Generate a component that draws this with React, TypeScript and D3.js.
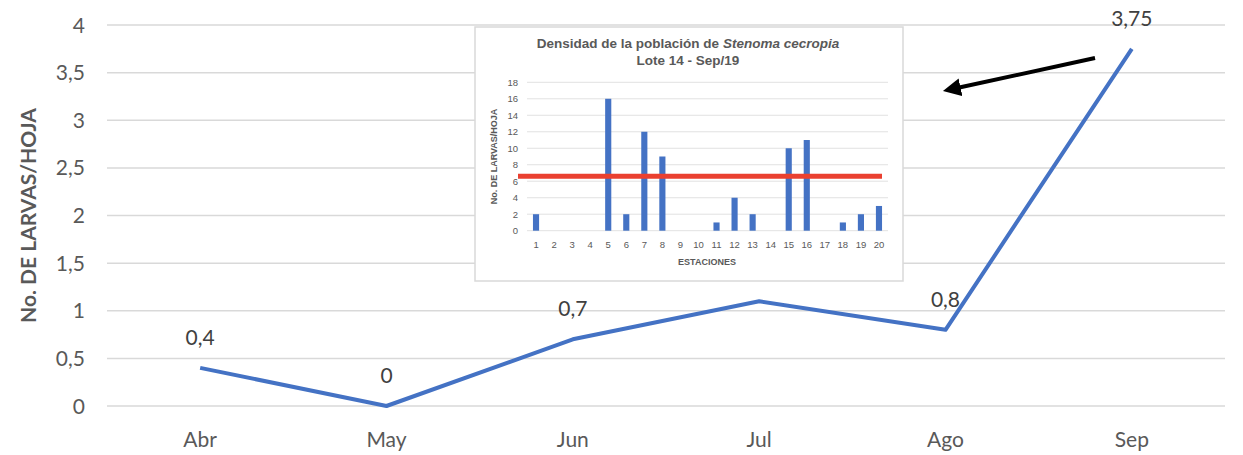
import React from "react";
import * as d3 from "d3";

// Main series: larvae per leaf by month
const months = ["Abr", "May", "Jun", "Jul", "Ago", "Sep"];
const larvas = [0.4, 0, 0.7, 1.1, 0.8, 3.75];
const labelShown = [true, true, true, false, true, true];
const yTicks = [0, 0.5, 1, 1.5, 2, 2.5, 3, 3.5, 4];

// Inset: station counts for Lote 14 - Sep/19
const estaciones = d3.range(1, 21).map(String);
const conteos = [2, 0, 0, 0, 16, 2, 12, 9, 0, 0, 1, 4, 2, 0, 10, 11, 0, 1, 2, 3];
const insetTicks = [0, 2, 4, 6, 8, 10, 12, 14, 16, 18];
const umbral = 6.6;

const W = 1243;
const H = 455;
const fmt = (v: number) => String(v).replace(".", ",");

const App: React.FC = () => {
  const x = d3.scaleBand<string>().domain(months).range([107, 1225]);
  const y = d3.scaleLinear().domain([0, 4]).range([406, 25]);

  const line = d3
    .line<number>()
    .x((_, i) => (x(months[i]) as number) + x.bandwidth() / 2)
    .y((d) => y(d));

  // inset scales
  const ix = d3.scaleBand<string>().domain(estaciones).range([527, 888]).paddingInner(0.66).paddingOuter(0.33);
  const iy = d3.scaleLinear().domain([0, 18]).range([230.7, 82.3]);

  const axisFont = "Lato, 'Open Sans', sans-serif";
  const insetFont = "'Liberation Sans', Arial, sans-serif";

  return (
    <svg width={W} height={H} style={{ position: "absolute", left: 0, top: 0, background: "#fff" }}>
      {/* gridlines */}
      {yTicks.map((t) => (
        <g key={t}>
          <line x1={107} x2={1225} y1={y(t)} y2={y(t)} stroke="#d9d9d9" strokeWidth={1.5} />
          <text x={85} y={y(t)} dy="0.36em" textAnchor="end" fontSize={21} fill="#595959" fontFamily={axisFont}>
            {fmt(t)}
          </text>
        </g>
      ))}
      {months.map((m) => (
        <text key={m} x={(x(m) as number) + x.bandwidth() / 2} y={447} textAnchor="middle" fontSize={21} fill="#595959" fontFamily={axisFont}>
          {m}
        </text>
      ))}
      <text
        transform={`translate(36,${(y(0) + y(4)) / 2}) rotate(-90)`}
        textAnchor="middle"
        fontSize={21}
        fontWeight="bold"
        fill="#595959"
        fontFamily={axisFont}
      >
        No. DE LARVAS/HOJA
      </text>

      <path d={line(larvas) as string} fill="none" stroke="#4472c4" strokeWidth={4} strokeLinejoin="round" />

      {larvas.map((v, i) =>
        labelShown[i] ? (
          <text key={i} x={(x(months[i]) as number) + x.bandwidth() / 2} y={y(v) - 23} textAnchor="middle" fontSize={21} fill="#404040" fontFamily={axisFont}>
            {fmt(v)}
          </text>
        ) : null
      )}

      {/* inset chart */}
      <rect x={475} y={27} width={428} height={254} fill="#fff" stroke="#d9d9d9" strokeWidth={1.5} />
      <text x={688} y={48} textAnchor="middle" fontSize={13.5} fontWeight="bold" fill="#595959" fontFamily={insetFont}>
        Densidad de la población de <tspan fontStyle="italic">Stenoma cecropia</tspan>
      </text>
      <text x={688} y={65} textAnchor="middle" fontSize={13.5} fontWeight="bold" fill="#595959" fontFamily={insetFont}>
        Lote 14 - Sep/19
      </text>
      {insetTicks.map((t) => (
        <g key={t}>
          <line x1={527} x2={888} y1={iy(t)} y2={iy(t)} stroke="#d9d9d9" strokeWidth={0.8} />
          <text x={518} y={iy(t)} dy="0.35em" textAnchor="end" fontSize={9.5} fill="#595959" fontFamily={insetFont}>
            {t}
          </text>
        </g>
      ))}
      {conteos.map((c, i) =>
        c > 0 ? (
          <rect key={i} x={ix(estaciones[i]) as number} y={iy(c)} width={ix.bandwidth()} height={iy(0) - iy(c)} fill="#4472c4" />
        ) : null
      )}
      {estaciones.map((s) => (
        <text key={s} x={(ix(s) as number) + ix.bandwidth() / 2} y={248} textAnchor="middle" fontSize={9.5} fill="#595959" fontFamily={insetFont}>
          {s}
        </text>
      ))}
      <text x={707} y={265} textAnchor="middle" fontSize={9} fontWeight="bold" fill="#595959" fontFamily={insetFont}>
        ESTACIONES
      </text>
      <text
        transform={`translate(497,${(iy(0) + iy(18)) / 2}) rotate(-90)`}
        textAnchor="middle"
        fontSize={9}
        fontWeight="bold"
        fill="#595959"
        fontFamily={insetFont}
      >
        No. DE LARVAS/HOJA
      </text>
      <line x1={518} x2={882} y1={iy(umbral)} y2={iy(umbral)} stroke="#ea4030" strokeWidth={5} />

      {/* arrow pointing to the inset */}
      <defs>
        <marker id="arrowhead" viewBox="0 0 10 10" refX={2} refY={5} markerWidth={4.5} markerHeight={4.5} orient="auto-start-reverse">
          <path d="M0,0 L10,5 L0,10 z" fill="#000" />
        </marker>
      </defs>
      <line x1={1095} y1={58} x2={957} y2={88} stroke="#000" strokeWidth={4} markerEnd="url(#arrowhead)" />
    </svg>
  );
};

export default App;
